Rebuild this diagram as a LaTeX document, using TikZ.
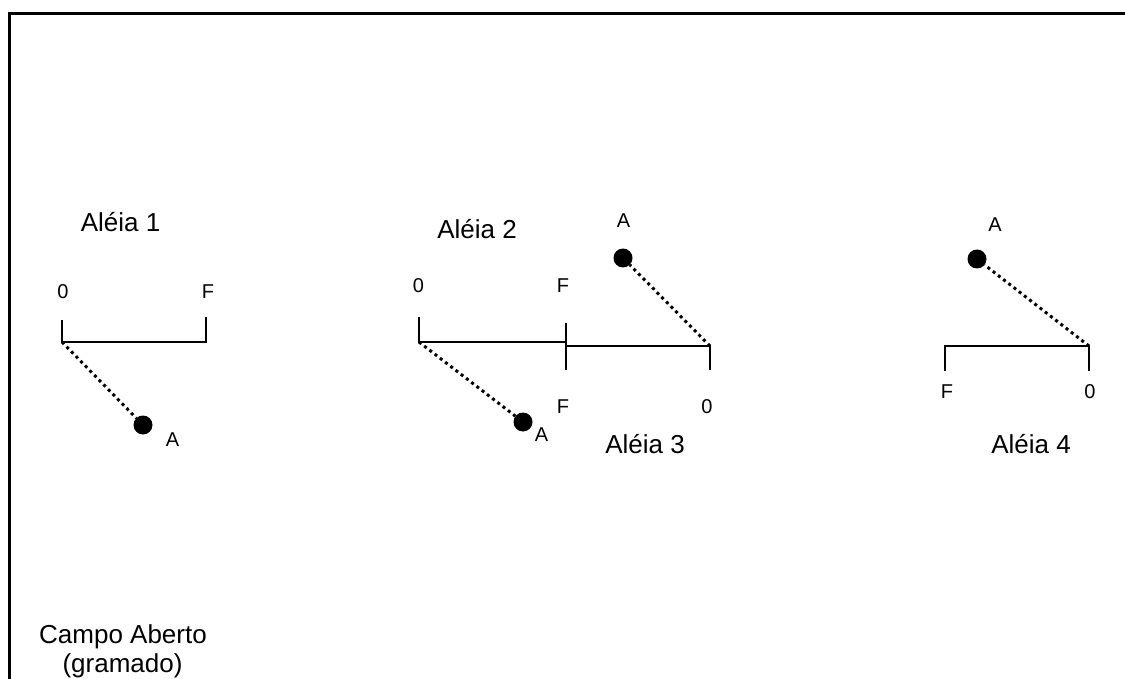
\documentclass[tikz,border=0pt]{standalone}
\usepackage{fontspec}
\setmainfont{Liberation Sans}
\begin{document}
\begin{tikzpicture}[x=1pt,y=-1pt,
  lbl/.style={font=\fontsize{26}{30}\selectfont, inner sep=0pt},
  tag/.style={font=\fontsize{20}{23}\selectfont, inner sep=0pt},
  plant/.style={circle, fill=black, minimum size=19pt, inner sep=0pt},
  row/.style={line width=2.2pt},
  sight/.style={line width=3pt, dash pattern=on 3pt off 3.6pt},
  frame/.style={line width=2.6pt}]
\useasboundingbox (0,0) rectangle (1125,679);

% outer frame (open on the right and bottom)
\draw[frame] (9.5,679) -- (9.5,13.5) -- (1125,13.5);

% ---- Aleia 1 ----
\node[lbl] (t1) at (120.5,222.5) {Aléia 1};
\coordinate (r1a) at (62,342);
\coordinate (r1b) at (206,342);
\draw[row] (62,320) -- (r1a) -- (r1b) -- (206,317);
\node[tag] (z1) at (63,291.5) {0};
\node[tag] (f1) at (208,291.5) {F};
\node[plant] (p1) at (143,425) {};
\node[tag] (a1) at (172.5,439.5) {A};
\draw[sight] (r1a) -- (p1);

% ---- Aleia 2 ----
\node[lbl] (t2) at (477,229) {Aléia 2};
\coordinate (r2a) at (419,342);
\coordinate (r2b) at (566,342);
\draw[row] (419,317) -- (r2a) -- (r2b);
\draw[row] (566,323) -- (566,370);
\node[tag] (z2) at (418.5,286) {0};
\node[tag] (f2) at (563,286) {F};
\node[plant] (p2) at (523,422) {};
\node[tag] (a2) at (541.5,435) {A};
\draw[sight] (r2a) -- (p2);

% ---- Aleia 3 ----
\coordinate (r3a) at (566,346);
\coordinate (r3b) at (710,346);
\draw[row] (r3a) -- (r3b) -- (710,370);
\node[tag] (f3) at (563,407) {F};
\node[tag] (z3) at (707,407) {0};
\node[lbl] (t3) at (645,444) {Aléia 3};
\node[plant] (p3) at (623,258) {};
\node[tag] (a3) at (623.5,220.5) {A};
\draw[sight] (r3b) -- (p3);

% ---- Aleia 4 ----
\coordinate (r4a) at (945,346);
\coordinate (r4b) at (1089,346);
\draw[row] (945,371) -- (r4a) -- (r4b) -- (1089,371);
\node[tag] (f4) at (947,391.5) {F};
\node[tag] (z4) at (1090,391.5) {0};
\node[lbl] (t4) at (1031,444) {Aléia 4};
\node[plant] (p4) at (977,259) {};
\node[tag] (a4) at (995,225) {A};
\draw[sight] (r4b) -- (p4);

% ---- open field ----
\node[lbl, anchor=base] (campo) at (123,643) {Campo Aberto};
\node[lbl, anchor=base] (gram) at (122.5,672) {(gramado)};
\end{tikzpicture}
\end{document}
